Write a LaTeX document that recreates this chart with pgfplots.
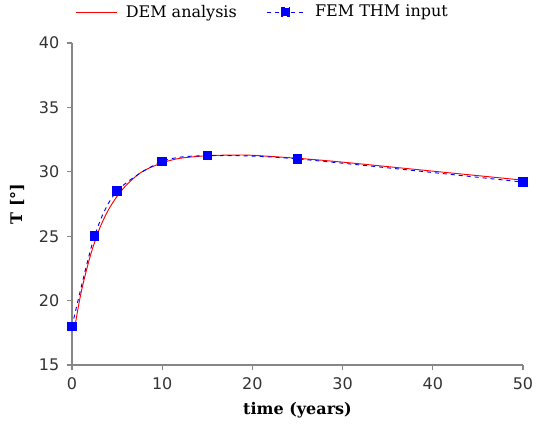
\documentclass[border=0pt]{standalone}
\usepackage{fontspec}
\setmainfont{DejaVu Serif}
\newfontfamily\tickfont{DejaVu Sans}
\usepackage{pgfplots}
\pgfplotsset{compat=1.18}
\definecolor{axgray}{RGB}{134,134,134}
\begin{document}
\begin{tikzpicture}
\useasboundingbox (-54pt,-51.75pt) rectangle (348pt,273.75pt);
\begin{axis}[
  at={(0,0)}, anchor=south west,
  scale only axis, width=338.25pt, height=241.5pt,
  xmin=0, xmax=50, ymin=15, ymax=40,
  xtick={0,10,...,50}, ytick={15,20,...,40},
  axis lines*=left,
  axis line style={axgray, line width=0.8pt},
  tick style={axgray, line width=0.8pt},
  tick align=outside, major tick length=4pt,
  /pgf/number format/assume math mode=true,
  ticklabel style={font=\tickfont\fontsize{12}{14}\selectfont, text=black!80},
  xticklabel style={yshift=-2pt},
  yticklabel style={xshift=-2pt},
  xlabel={\textbf{time (years)}},
  ylabel={\textbf{T [°]}},
  label style={font=\fontsize{12}{14}\selectfont},
  xlabel style={at={(axis description cs:0.5,-0.14)}, anchor=center},
  ylabel style={at={(axis description cs:-0.122,0.5)}, anchor=center},
  legend columns=2,
  legend style={draw=none, at={(0.4235,1.096)}, anchor=center,
    font=\fontsize{12}{14}\selectfont, column sep=4pt,
    /tikz/every even column/.append style={column sep=20pt}},
  clip=false,
]
\addplot[red, line width=0.7pt, smooth, tension=0.5,
  legend image code/.code={\draw[red, line width=0.7pt] (0pt,0pt) -- (31pt,0pt);}] coordinates {
 (0.3,17.9) (1,20.6) (2,23.4) (3,25.5) (4,27.0) (5,28.1) (6,28.95) (7,29.6)
 (8,30.1) (10,30.7) (12,31.05) (15,31.25) (18,31.3) (20,31.28) (25,31.05)
 (30,30.75) (40,30.05) (50,29.35)};
\addlegendentry{DEM analysis}
\addplot[blue, dashed, line width=0.7pt, smooth, tension=0.5,
  mark=square*, mark size=3.2pt, mark options={solid, fill=blue},
  legend image code/.code={\draw[blue, dashed, line width=0.7pt] (0pt,0pt) -- (30pt,0pt);
     \fill[blue] (11pt,-3.2pt) rectangle (17.4pt,3.2pt);}] coordinates {
 (0,18.0) (2.5,25.0) (5,28.5) (10,30.8) (15,31.25) (25,31.0) (50,29.2)};
\addlegendentry{FEM THM input}
\end{axis}
\end{tikzpicture}
\end{document}
